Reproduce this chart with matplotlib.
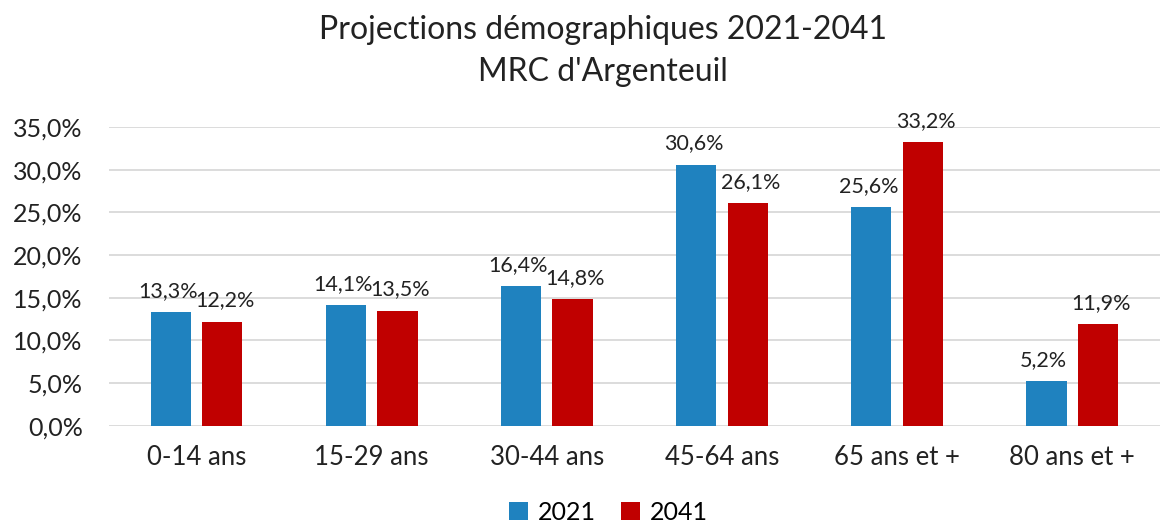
import numpy as np
import matplotlib.pyplot as plt
from matplotlib.ticker import FuncFormatter

plt.rcParams['font.family'] = ['Lato', 'DejaVu Sans']

# données
categories = ['0-14 ans', '15-29 ans', '30-44 ans', '45-64 ans', '65 ans et +', '80 ans et +']
val_2021 = [13.3, 14.1, 16.4, 30.6, 25.6, 5.2]
val_2041 = [12.2, 13.5, 14.8, 26.1, 33.2, 11.9]
series_names = ['2021', '2041']

c_2021 = '#1F82BF'
c_2041 = '#C00000'

fig = plt.figure(figsize=(11.7, 5.29), dpi=100)
ax = fig.add_axes([0.0932, 0.195, 0.898, 0.565])

x = np.arange(len(categories))
w = 0.23
off = 0.147

b1 = ax.bar(x - off, val_2021, w, color=c_2021, label=series_names[0], zorder=3)
b2 = ax.bar(x + off, val_2041, w, color=c_2041, label=series_names[1], zorder=3)

def fr(v):
    return f"{v:.1f}".replace('.', ',') + '%'

# petit décalage horizontal pour que les étiquettes voisines ne se touchent pas
for bars, vals, dx in [(b1, val_2021, -2), (b2, val_2041, 2)]:
    for r, v in zip(bars, vals):
        ax.annotate(fr(v), (r.get_x() + r.get_width() / 2, v),
                    xytext=(dx, 8), textcoords='offset points',
                    ha='center', va='bottom', fontsize=15.5, color='#222222', zorder=4)

ax.set_xlim(-0.5, len(categories) - 0.5)
ax.set_ylim(0, 35)
ax.set_yticks(np.arange(0, 35.1, 5))
ax.yaxis.set_major_formatter(FuncFormatter(lambda v, p: fr(v)))
ax.set_xticks(x)
ax.set_xticklabels(categories)
ax.tick_params(axis='y', length=0, pad=19, labelsize=18, labelcolor='#222222')
ax.tick_params(axis='x', length=0, pad=14, labelsize=18.5, labelcolor='#222222')
ax.grid(axis='y', color='#D9D9D9', linewidth=1.3, zorder=0)
for s in ax.spines.values():
    s.set_visible(False)

fig.text(0.515, 0.943, "Projections démographiques 2021-2041", ha='center', va='center',
         fontsize=23, color='#222222')
fig.text(0.515, 0.863, "MRC d'Argenteuil", ha='center', va='center',
         fontsize=23, color='#222222')

fig.legend(handles=[b1, b2], labels=series_names, loc='center', bbox_to_anchor=(0.52, 0.032),
           ncol=2, frameon=False, fontsize=18, handlelength=0.75, handleheight=0.75,
           handletextpad=0.4, columnspacing=1.0, borderpad=0.1)

fig.savefig('out.png', dpi=100)
